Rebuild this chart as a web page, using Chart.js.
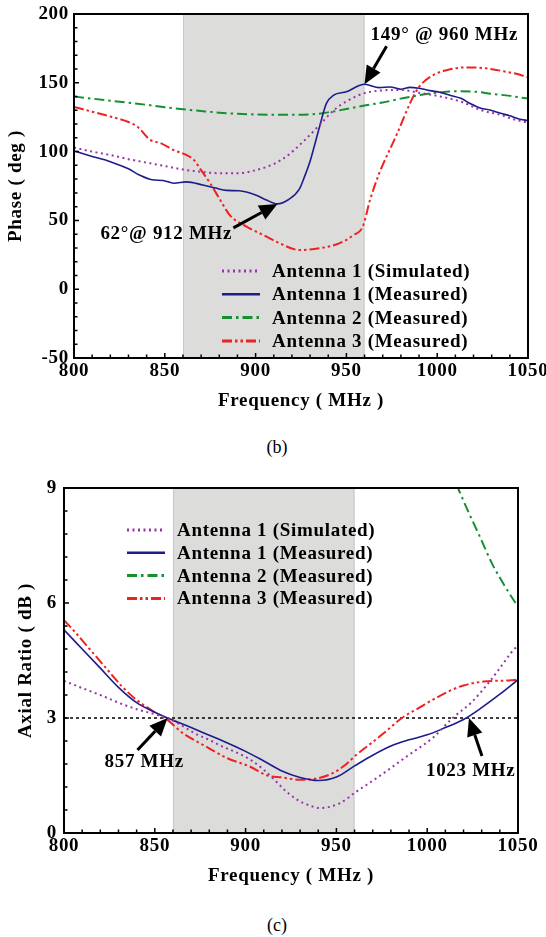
<!DOCTYPE html>
<html>
<head>
<meta charset="utf-8">
<script src="https://cdn.jsdelivr.net/npm/chart.js@4.4.1/dist/chart.umd.min.js"></script>
<style>
  body { margin: 0; background: #fff; width: 546px; height: 937px; position: relative; overflow: hidden; }
  canvas { position: absolute; left: 0; }
  #phaseChart { top: 0; }
  #arChart { top: 460px; }
  .caption { position: absolute; left: 257px; width: 40px; text-align: center;
             font: 18px "Liberation Serif", "Times New Roman", serif; color: #000; }
</style>
</head>
<body>
<canvas id="phaseChart" width="546" height="425"></canvas>
<div class="caption" style="top:437px">(b)</div>
<canvas id="arChart" width="546" height="440"></canvas>
<div class="caption" style="top:915px">(c)</div>
<script>
// ---- (b) phase, deg ----
const phaseSimFreq = [800,810,820,830,840,850,860,870,880,890,900,910,917,926,935,943,950,960,968,980,989,1000,1013,1024,1035,1042,1050];
const phaseSim = [103,100,97.5,94.5,92,89.5,87,85.3,84.3,84.3,86.5,91,96.5,107,119,130,136.5,142.5,144.3,144.8,143,140.5,136.3,130.2,126.6,123.5,121];

const phaseMeas1Freq = [800,810,820,830,836,843,849,855,862,871,878,884,891,900,906,912,918,924,927,930,935,939,943,950,957,960,968,974,980,985,990,996,1002,1007,1013,1018,1024,1029,1035,1040,1045,1050];
const phaseMeas1 = [100.5,96.5,92.7,87.5,83,79.5,79,77,78,75.7,73.5,71.8,71.5,68.5,64.8,62,65,72.5,82,93,117,135,141,143.5,148,149,146.5,147,145.3,146.7,146,144.3,143,141,138.7,135,131.5,130.2,127.8,126,123.7,122.5];

const phaseAnt2Freq = [800,810,820,830,840,850,860,870,880,890,900,910,920,930,940,950,960,970,980,990,1000,1010,1020,1030,1040,1050];
const phaseAnt2 = [140,138.5,137,135.5,134,132.3,130.8,129.5,128.3,127.5,127,126.8,126.8,127,128.5,131,133.5,135.7,138.5,141,142.8,143.8,143.6,142,140.5,138.5];

const phaseAnt3Freq = [800,810,820,830,835,842,848,855,862,866,870,875,880,886,895,904,913,924,935,946,954,959,963,968,970,978,985,990,998,1007,1016,1027,1038,1046,1050];
const phaseAnt3 = [132.5,129,125.5,121.5,118,108.5,106,101,97.5,94,86.5,77,66,53.5,45.5,39.5,33.5,28.5,29.7,33.3,39.4,45.4,64.8,84,90.3,113.3,135,147,155.7,159.8,161.2,160.5,158,155.7,154];

// ---- (c) axial ratio, dB ----
const arSimFreq = [800,810,820,830,840,850,857,865,872,880,887,895,903,910,916,922,928,934,941,952,961,968,976,983,990,1003,1014,1024,1033,1042,1046,1050];
const arSim = [3.97,3.78,3.6,3.4,3.23,3.1,3.0,2.8,2.6,2.43,2.26,2.1,1.9,1.65,1.38,1.1,0.88,0.74,0.65,0.78,1.08,1.3,1.56,1.8,2.04,2.48,3.0,3.39,3.87,4.43,4.69,4.9];

const arMeas1Freq = [800,810,820,830,840,850,857,870,880,890,900,910,920,930,940,950,960,970,980,990,1000,1010,1020,1030,1040,1050];
const arMeas1 = [5.3,4.8,4.3,3.8,3.4,3.15,3.0,2.75,2.55,2.35,2.13,1.88,1.62,1.45,1.37,1.46,1.75,2.03,2.27,2.43,2.56,2.75,2.96,3.27,3.62,4.0];

const arAnt2Freq = [1016,1022,1029,1036,1043,1050];
const arAnt2 = [9.1,8.45,7.73,7.0,6.42,5.9];

const arAnt3Freq = [800,805,815,825,832,840,850,857,865,878,890,902,912,920,930,940,948,955,961,968,976,986,995,1004,1012,1020,1031,1045,1050];
const arAnt3 = [5.55,5.3,4.75,4.2,3.82,3.47,3.15,2.95,2.62,2.26,1.95,1.74,1.5,1.45,1.39,1.43,1.56,1.78,2.04,2.3,2.6,3.0,3.25,3.5,3.7,3.85,3.95,3.98,4.0];

const freqRange = [800, 1050];
const band = [860, 960];      // shaded operating band
const arLimit = 3;            // 3 dB reference line

const labels = ['Antenna 1 (Simulated)', 'Antenna 1 (Measured)', 'Antenna 2 (Measured)', 'Antenna 3 (Measured)'];

const phaseNoteFreq = [960, 912];
const phaseNoteVal = [149, 62];
const phaseNoteText = ['149° @ 960 MHz', '62°@ 912 MHz'];
const arNoteFreq = [857, 1023];
const arNoteVal = [3, 3];
const arNoteText = ['857 MHz', '1023 MHz'];

const FONT = '"Liberation Serif", "Times New Roman", serif';
Chart.defaults.color = '#000';

const lineStyles = [
    { color: '#9933aa', dash: [2, 3.5], width: 2 },
    { color: '#1c1c8c', dash: [], width: 1.6 },
    { color: '#149030', dash: [10, 4, 2.5, 4], width: 2 },
    { color: '#ee2222', dash: [10, 3, 2.5, 3, 2.5, 3], width: 2 }
];

function pts(f, v) {
    return f.map((x, i) => ({ x: x, y: v[i] }));
}

function series(i, f, v) {
    const st = lineStyles[i];
    return {
        label: labels[i],
        data: pts(f, v),
        borderColor: st.color,
        borderDash: st.dash,
        borderWidth: st.width,
        pointRadius: 0,
        fill: false,
        cubicInterpolationMode: 'monotone'
    };
}

function drawArrow(ctx, tx, ty, fx, fy) {
    const ang = Math.atan2(ty - fy, tx - fx);
    const head = 18, half = 8;
    const bx = tx - head * Math.cos(ang), by = ty - head * Math.sin(ang);
    ctx.lineWidth = 3;
    ctx.beginPath();
    ctx.moveTo(fx, fy);
    ctx.lineTo(bx, by);
    ctx.stroke();
    ctx.beginPath();
    ctx.moveTo(tx, ty);
    ctx.lineTo(bx + half * Math.sin(ang), by - half * Math.cos(ang));
    ctx.lineTo(bx - half * Math.sin(ang), by + half * Math.cos(ang));
    ctx.closePath();
    ctx.fill();
}

const decor = {
    id: 'decor',
    beforeDraw(chart) {
        chart.ctx.letterSpacing = '0.7px';
    },
    beforeDatasetsDraw(chart) {
        const { ctx, chartArea: a, scales: { x } } = chart;
        const x0 = x.getPixelForValue(band[0]), x1 = x.getPixelForValue(band[1]);
        ctx.save();
        ctx.fillStyle = '#dcdddb';
        ctx.fillRect(x0, a.top, x1 - x0, a.bottom - a.top);
        ctx.strokeStyle = '#c6c8c6';
        ctx.lineWidth = 1;
        ctx.beginPath();
        ctx.moveTo(x0 + 0.5, a.top); ctx.lineTo(x0 + 0.5, a.bottom);
        ctx.moveTo(x1 - 0.5, a.top); ctx.lineTo(x1 - 0.5, a.bottom);
        ctx.stroke();
        ctx.restore();
    },
    afterDraw(chart, args, opts) {
        const { ctx, chartArea: a, scales: { x, y } } = chart;
        ctx.save();
        ctx.letterSpacing = '0.7px';
        ctx.strokeStyle = '#000';
        ctx.fillStyle = '#000';

        // frame
        ctx.lineWidth = 2;
        ctx.strokeRect(a.left, a.top, a.right - a.left, a.bottom - a.top);

        // inward ticks
        ctx.lineWidth = 1.5;
        ctx.beginPath();
        x.ticks.forEach(t => {
            const px = x.getPixelForValue(t.value);
            const len = t.label ? 5 : 3.5;
            ctx.moveTo(px, a.bottom); ctx.lineTo(px, a.bottom - len);
        });
        y.ticks.forEach(t => {
            const py = y.getPixelForValue(t.value);
            const len = t.label ? 5 : 3.5;
            ctx.moveTo(a.left, py); ctx.lineTo(a.left + len, py);
        });
        ctx.stroke();

        // legend
        const lg = opts.legend;
        ctx.font = 'bold 19px ' + FONT;
        ctx.textBaseline = 'middle';
        ctx.textAlign = 'left';
        chart.data.datasets.forEach((ds, i) => {
            if (!ds.label) return;
            const ly = a.top + lg.y + i * lg.gap;
            const lx = a.left + lg.x;
            ctx.save();
            ctx.strokeStyle = ds.borderColor;
            ctx.lineWidth = ds.borderWidth + 1;
            ctx.setLineDash(ds.borderDash);
            ctx.beginPath();
            ctx.moveTo(lx, ly); ctx.lineTo(lx + lg.len, ly);
            ctx.stroke();
            ctx.restore();
            ctx.fillText(ds.label, lx + lg.len + 12, ly + 1);
        });

        // annotations
        opts.notes.forEach(n => {
            const tx = x.getPixelForValue(n.f), ty = y.getPixelForValue(n.v);
            drawArrow(ctx, tx, ty, tx + n.dx, ty + n.dy);
            ctx.fillText(n.text, tx + n.tdx, ty + n.tdy);
        });
        ctx.restore();
    }
};

function buildScales(cfg) {
    return {
        x: {
            type: 'linear',
            min: freqRange[0], max: freqRange[1],
            grid: { display: false, drawTicks: false },
            border: { display: false },
            ticks: {
                stepSize: 10, autoSkip: false, maxRotation: 0, padding: 2,
                font: { family: FONT, size: 19, weight: 'bold' },
                callback: v => (v % 50 === 0 ? String(v) : '')
            },
            title: {
                display: true, text: 'Frequency ( MHz )',
                font: { family: FONT, size: 19, weight: 'bold' },
                padding: { top: 0, bottom: 13 }
            },
            afterFit(s) { s.height = cfg.xh; s.paddingLeft = 0; s.paddingRight = 0; }
        },
        y: {
            type: 'linear',
            min: cfg.ymin, max: cfg.ymax,
            grid: { display: false, drawTicks: false },
            border: { display: false },
            ticks: {
                stepSize: cfg.step, autoSkip: false, padding: cfg.tickPad,
                font: { family: FONT, size: 19, weight: 'bold' },
                callback: v => (Math.abs(v / cfg.major - Math.round(v / cfg.major)) < 1e-6 ? String(Math.round(v)) : '')
            },
            title: {
                display: true, text: cfg.title,
                font: { family: FONT, size: 19, weight: 'bold' },
                padding: { top: cfg.titlePad, bottom: 0 }
            },
            afterFit(s) { s.width = cfg.yw; s.paddingTop = 0; s.paddingBottom = 0; }
        }
    };
}

function notes(fs, vs, texts, geo) {
    return fs.map((f, i) => Object.assign({ f: f, v: vs[i], text: texts[i] }, geo[i]));
}

new Chart(document.getElementById('phaseChart'), {
    type: 'line',
    data: {
        datasets: [
            series(0, phaseSimFreq, phaseSim),
            series(1, phaseMeas1Freq, phaseMeas1),
            series(2, phaseAnt2Freq, phaseAnt2),
            series(3, phaseAnt3Freq, phaseAnt3)
        ]
    },
    options: {
        responsive: false,
        animation: false,
        devicePixelRatio: 1,
        layout: { padding: { left: 0, right: 18, top: 14, bottom: 0 } },
        scales: buildScales({ ymin: -50, ymax: 200, step: 10, major: 50, title: 'Phase ( deg )',
                              yw: 74, xh: 67, tickPad: 5, titlePad: 5 }),
        plugins: {
            legend: { display: false },
            tooltip: { enabled: false },
            decor: {
                legend: { x: 148, y: 257, gap: 23.3, len: 38 },
                notes: notes(phaseNoteFreq, phaseNoteVal, phaseNoteText, [
                    { dx: 22, dy: -38, tdx: 6, tdy: -49 },
                    { dx: -44, dy: 24, tdx: -177, tdy: 30 }
                ])
            }
        }
    },
    plugins: [decor]
});

new Chart(document.getElementById('arChart'), {
    type: 'line',
    data: {
        datasets: [
            series(0, arSimFreq, arSim),
            series(1, arMeas1Freq, arMeas1),
            series(2, arAnt2Freq, arAnt2),
            series(3, arAnt3Freq, arAnt3),
            {
                label: '',
                data: [{ x: freqRange[0], y: arLimit }, { x: freqRange[1], y: arLimit }],
                borderColor: '#000', borderDash: [3, 3], borderWidth: 1.5, pointRadius: 0
            }
        ]
    },
    options: {
        responsive: false,
        animation: false,
        devicePixelRatio: 1,
        layout: { padding: { left: 0, right: 28, top: 28, bottom: 0 } },
        scales: buildScales({ ymin: 0, ymax: 9, step: 0.6, major: 3, title: 'Axial Ratio ( dB )',
                              yw: 64, xh: 67, tickPad: 7, titlePad: 15 }),
        plugins: {
            legend: { display: false },
            tooltip: { enabled: false },
            decor: {
                legend: { x: 63, y: 42, gap: 22.8, len: 38 },
                notes: notes(arNoteFreq, arNoteVal, arNoteText, [
                    { dx: -30, dy: 32, tdx: -63, tdy: 44 },
                    { dx: 13, dy: 38, tdx: -43, tdy: 53 }
                ])
            }
        }
    },
    plugins: [decor]
});
</script>
</body>
</html>
